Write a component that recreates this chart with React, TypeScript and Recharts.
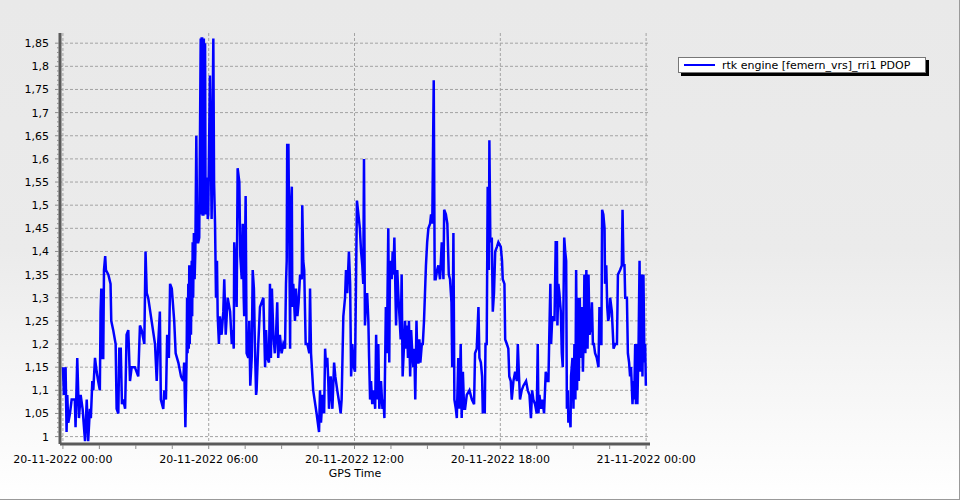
import { LineChart, Line, XAxis, YAxis, CartesianGrid, Legend } from "recharts";

const SERIES_NAME = "rtk engine [femern_vrs]_rri1 PDOP";
const FONT = "'DejaVu Sans', Verdana, sans-serif";

// [hours since 20-11-2022 00:00, PDOP]
const pdop00to06: [number, number][] = [
  [0, 1.15], [0.04, 1.09], [0.11, 1.15], [0.15, 1.01], [0.18, 1.09], [0.22, 1.03], [0.29, 1.05], [0.36, 1.08],
  [0.42, 1.08], [0.49, 1.08], [0.52, 1.02], [0.59, 1.17], [0.66, 1.04], [0.73, 1.09], [0.81, 1.06], [0.91, 0.99],
  [0.98, 1.08], [1.04, 0.99], [1.11, 1.06], [1.15, 1.04], [1.21, 1.12], [1.25, 1.1], [1.32, 1.17], [1.39, 1.14],
  [1.45, 1.12], [1.52, 1.1], [1.55, 1.27], [1.58, 1.32], [1.62, 1.17], [1.66, 1.17], [1.69, 1.36], [1.74, 1.39],
  [1.77, 1.36], [1.87, 1.35], [1.96, 1.33], [1.99, 1.25], [2.07, 1.23], [2.17, 1.2], [2.21, 1.06], [2.28, 1.05],
  [2.32, 1.19], [2.38, 1.19], [2.43, 1.07], [2.48, 1.08], [2.56, 1.06], [2.62, 1.22], [2.69, 1.23], [2.76, 1.12],
  [2.83, 1.15], [2.96, 1.15], [3.1, 1.13], [3.17, 1.24], [3.24, 1.23], [3.35, 1.2], [3.4, 1.4], [3.45, 1.31],
  [3.51, 1.3], [3.65, 1.25], [3.79, 1.2], [3.86, 1.12], [3.92, 1.2], [3.99, 1.27], [4.03, 1.08], [4.13, 1.06],
  [4.17, 1.1], [4.24, 1.08], [4.29, 1.22], [4.36, 1.17], [4.41, 1.33], [4.48, 1.32], [4.58, 1.25], [4.64, 1.18],
  [4.75, 1.16], [4.86, 1.13], [4.95, 1.12], [4.99, 1.16], [5.04, 1.02], [5.09, 1.17], [5.11, 1.3], [5.13, 1.18],
  [5.16, 1.33], [5.18, 1.19], [5.2, 1.37], [5.22, 1.2], [5.24, 1.35], [5.27, 1.22], [5.3, 1.38], [5.32, 1.26],
  [5.34, 1.42], [5.36, 1.3], [5.39, 1.44], [5.42, 1.34], [5.45, 1.4], [5.49, 1.65], [5.53, 1.42], [5.57, 1.42],
  [5.61, 1.43], [5.67, 1.86], [5.69, 1.48], [5.71, 1.86], [5.73, 1.86], [5.75, 1.48], [5.78, 1.48], [5.8, 1.86],
  [5.82, 1.5], [5.85, 1.85], [5.87, 1.48], [5.89, 1.55], [5.92, 1.48], [5.94, 1.56], [5.96, 1.47], [5.98, 1.48],
];

const pdop06to12: [number, number][] = [
  [6.05, 1.78], [6.09, 1.6], [6.12, 1.47], [6.19, 1.86], [6.22, 1.55], [6.26, 1.46], [6.3, 1.3], [6.34, 1.38],
  [6.37, 1.26], [6.42, 1.2], [6.46, 1.26], [6.53, 1.22], [6.6, 1.27], [6.64, 1.34], [6.7, 1.22], [6.78, 1.3],
  [6.88, 1.27], [6.95, 1.2], [6.99, 1.23], [7.03, 1.19], [7.05, 1.42], [7.11, 1.35], [7.15, 1.28], [7.19, 1.58],
  [7.26, 1.55], [7.3, 1.39], [7.36, 1.34], [7.4, 1.46], [7.44, 1.3], [7.46, 1.26], [7.52, 1.52], [7.56, 1.18],
  [7.63, 1.17], [7.67, 1.25], [7.71, 1.11], [7.77, 1.17], [7.81, 1.36], [7.86, 1.32], [7.9, 1.2], [7.95, 1.09],
  [7.97, 1.1], [8.04, 1.2], [8.11, 1.28], [8.18, 1.29], [8.25, 1.3], [8.32, 1.15], [8.36, 1.23], [8.41, 1.17],
  [8.48, 1.16], [8.52, 1.33], [8.56, 1.17], [8.6, 1.32], [8.66, 1.22], [8.72, 1.18], [8.77, 1.22], [8.82, 1.29],
  [8.86, 1.17], [8.93, 1.22], [9.0, 1.18], [9.07, 1.2], [9.14, 1.19], [9.18, 1.33], [9.21, 1.38], [9.23, 1.63],
  [9.28, 1.63], [9.32, 1.4], [9.35, 1.19], [9.37, 1.48], [9.42, 1.54], [9.44, 1.28], [9.48, 1.33], [9.55, 1.25],
  [9.59, 1.32], [9.65, 1.26], [9.7, 1.29], [9.76, 1.35], [9.83, 1.34], [9.85, 1.5], [9.89, 1.38], [9.93, 1.36],
  [9.99, 1.2], [10.06, 1.2], [10.14, 1.18], [10.17, 1.32], [10.21, 1.18], [10.3, 1.1], [10.44, 1.05], [10.54, 1.01],
  [10.58, 1.1], [10.62, 1.03], [10.69, 1.09], [10.75, 1.05], [10.79, 1.19], [10.83, 1.15], [10.88, 1.17], [10.92, 1.12],
  [10.95, 1.06], [11.02, 1.13], [11.09, 1.06], [11.16, 1.16], [11.21, 1.13], [11.29, 1.1], [11.38, 1.07], [11.43, 1.05],
  [11.47, 1.08], [11.54, 1.26], [11.61, 1.3], [11.65, 1.36], [11.7, 1.31], [11.77, 1.4], [11.82, 1.33], [11.86, 1.13],
  [11.91, 1.2], [11.97, 1.15],
];

const pdop12to18: [number, number][] = [
  [12.02, 1.14], [12.1, 1.51], [12.16, 1.48], [12.22, 1.45], [12.27, 1.4], [12.32, 1.37], [12.36, 1.33], [12.39, 1.6],
  [12.43, 1.24], [12.47, 1.29], [12.52, 1.31], [12.57, 1.25], [12.6, 1.17], [12.64, 1.08], [12.68, 1.12], [12.73, 1.07],
  [12.8, 1.1], [12.85, 1.06], [12.89, 1.22], [12.94, 1.08], [12.98, 1.2], [13.02, 1.06], [13.09, 1.12], [13.15, 1.06],
  [13.19, 1.08], [13.23, 1.04], [13.29, 1.28], [13.33, 1.18], [13.39, 1.45], [13.43, 1.16], [13.46, 1.38], [13.53, 1.34],
  [13.57, 1.4], [13.6, 1.35], [13.64, 1.43], [13.67, 1.35], [13.71, 1.24], [13.76, 1.36], [13.8, 1.31], [13.85, 1.26],
  [13.9, 1.21], [13.94, 1.35], [13.98, 1.13], [14.04, 1.2], [14.08, 1.25], [14.12, 1.19], [14.16, 1.24], [14.2, 1.17],
  [14.24, 1.25], [14.29, 1.13], [14.33, 1.23], [14.38, 1.18], [14.42, 1.15], [14.46, 1.19], [14.5, 1.08], [14.55, 1.25],
  [14.59, 1.16], [14.63, 1.16], [14.67, 1.21], [14.71, 1.16], [14.77, 1.2], [14.81, 1.2], [14.86, 1.25], [14.9, 1.31],
  [14.94, 1.37], [14.99, 1.42], [15.04, 1.45], [15.11, 1.46], [15.15, 1.48], [15.2, 1.46], [15.26, 1.77], [15.3, 1.34],
  [15.34, 1.34], [15.4, 1.36], [15.45, 1.37], [15.52, 1.34], [15.59, 1.42], [15.66, 1.34], [15.69, 1.49], [15.76, 1.48],
  [15.82, 1.46], [15.88, 1.35], [15.93, 1.34], [15.99, 1.29], [16.02, 1.15], [16.04, 1.24], [16.07, 1.44], [16.11, 1.08],
  [16.17, 1.06], [16.21, 1.04], [16.27, 1.17], [16.32, 1.06], [16.37, 1.2], [16.41, 1.04], [16.46, 1.14], [16.51, 1.06],
  [16.55, 1.06], [16.62, 1.09], [16.73, 1.1], [16.83, 1.08], [16.92, 1.07], [16.96, 1.18], [17.03, 1.19], [17.1, 1.28],
  [17.14, 1.17], [17.2, 1.16], [17.25, 1.13], [17.28, 1.05], [17.32, 1.1], [17.36, 1.05], [17.39, 1.2], [17.44, 1.2],
  [17.48, 1.54], [17.53, 1.36], [17.55, 1.64], [17.59, 1.42], [17.65, 1.43], [17.69, 1.27], [17.74, 1.31], [17.79, 1.4],
  [17.86, 1.41], [17.92, 1.42],
];

const pdop18to24: [number, number][] = [
  [18.02, 1.41], [18.07, 1.38], [18.1, 1.34], [18.17, 1.33], [18.2, 1.21], [18.27, 1.2], [18.33, 1.19], [18.37, 1.13],
  [18.43, 1.12], [18.47, 1.08], [18.54, 1.12], [18.61, 1.14], [18.68, 1.12], [18.72, 1.2], [18.77, 1.13], [18.81, 1.08],
  [18.88, 1.1], [18.95, 1.11], [19.06, 1.12], [19.13, 1.1], [19.2, 1.09], [19.26, 1.04], [19.31, 1.1], [19.36, 1.08],
  [19.43, 1.07], [19.5, 1.05], [19.54, 1.2], [19.57, 1.05], [19.61, 1.09], [19.68, 1.06], [19.73, 1.08], [19.8, 1.05],
  [19.87, 1.14], [19.93, 1.12], [19.98, 1.12], [20.02, 1.23], [20.06, 1.33], [20.09, 1.2], [20.14, 1.26], [20.23, 1.25],
  [20.28, 1.42], [20.33, 1.42], [20.35, 1.24], [20.39, 1.33], [20.43, 1.31], [20.49, 1.27], [20.53, 1.18], [20.57, 1.15],
  [20.63, 1.43], [20.67, 1.4], [20.71, 1.38], [20.74, 1.06], [20.78, 1.1], [20.8, 1.03], [20.84, 1.05], [20.89, 1.02],
  [20.91, 1.13], [20.97, 1.17], [21.01, 1.06], [21.05, 1.2], [21.09, 1.08], [21.12, 1.36], [21.16, 1.1], [21.19, 1.3],
  [21.23, 1.12], [21.27, 1.3], [21.31, 1.17], [21.35, 1.28], [21.4, 1.14], [21.44, 1.25], [21.46, 1.35], [21.5, 1.18],
  [21.54, 1.36], [21.59, 1.19], [21.63, 1.35], [21.67, 1.22], [21.73, 1.24], [21.77, 1.29], [21.81, 1.2], [21.85, 1.2],
  [21.9, 1.18], [21.97, 1.17], [22.04, 1.15], [22.08, 1.28], [22.12, 1.2], [22.16, 1.2], [22.19, 1.49], [22.24, 1.48],
  [22.29, 1.45], [22.31, 1.33], [22.36, 1.37], [22.4, 1.28], [22.44, 1.25], [22.48, 1.26], [22.52, 1.3], [22.59, 1.27],
  [22.66, 1.19], [22.73, 1.2], [22.8, 1.2], [22.84, 1.35], [22.93, 1.36], [23.0, 1.37], [23.03, 1.49], [23.07, 1.37],
  [23.11, 1.37], [23.14, 1.3], [23.21, 1.3], [23.25, 1.18], [23.3, 1.16], [23.34, 1.13], [23.38, 1.15], [23.44, 1.07],
  [23.48, 1.12], [23.51, 1.08], [23.55, 1.2], [23.58, 1.07], [23.62, 1.2], [23.64, 1.07], [23.69, 1.2], [23.73, 1.38],
  [23.77, 1.14], [23.81, 1.35], [23.85, 1.13], [23.89, 1.35], [23.93, 1.16], [23.96, 1.2], [23.99, 1.11],
];

const xMajorTicks = [0, 6, 12, 18, 24];
const xMinorTicks = [0, 1.5, 3, 4.5, 6, 7.5, 9, 10.5, 12, 13.5, 15, 16.5, 18, 19.5, 21, 22.5, 24];
const yMajorTicks = [1, 1.05, 1.1, 1.15, 1.2, 1.25, 1.3, 1.35, 1.4, 1.45, 1.5, 1.55, 1.6, 1.65, 1.7, 1.75, 1.8, 1.85];
// small marks every 0.01 on the value axis
const yMinorTicks = Array.from({ length: 86 }, (_, i) => Math.round(100 + i) / 100);

const data = [...pdop00to06, ...pdop06to12, ...pdop12to18, ...pdop18to24].map(([h, v]) => ({ h, pdop: v }));

function timeLabel(h: number) {
  const day = 20 + Math.floor(h / 24);
  const hh = String(h % 24).padStart(2, "0");
  return `${day}-11-2022 ${hh}:00`;
}

function XTick({ x, y, payload }: any) {
  const v = payload.value;
  const major = xMajorTicks.includes(v);
  return (
    <g>
      <line x1={x} x2={x} y1={y + 1} y2={y + 5} stroke="#8c8c8c" />
      {major && (
        <text x={x} y={y + 19} textAnchor="middle" fontSize={11} fontFamily={FONT} fill="#000">
          {timeLabel(v)}
        </text>
      )}
    </g>
  );
}

function YTick({ x, y, payload }: any) {
  const v = payload.value;
  const major = Math.round(v * 100) % 5 === 0;
  return (
    <g>
      <line x1={x - (major ? 5 : 3)} x2={x - 1} y1={y} y2={y} stroke="#8c8c8c" />
      {major && (
        <text x={x - 11} y={y + 4} textAnchor="end" fontSize={11} fontFamily={FONT} fill="#000">
          {String(Math.round(v * 100) / 100).replace(".", ",")}
        </text>
      )}
    </g>
  );
}

function LegendBox({ payload }: any) {
  return (
    <div>
      {(payload || []).map((entry: any) => (
        <div
          key={entry.value}
          style={{
            display: "flex",
            alignItems: "center",
            boxSizing: "border-box",
            width: 248,
            height: 16,
            padding: "0 5px",
            background: "#fff",
            border: "1px solid #777",
            boxShadow: "3px 3px 0 #000",
            fontFamily: FONT,
            fontSize: 11,
            color: "#000",
            whiteSpace: "nowrap",
          }}
        >
          <span style={{ display: "inline-block", width: 31, height: 2, background: entry.color, marginRight: 7 }} />
          <span>{entry.value}</span>
        </div>
      ))}
    </div>
  );
}

export default function App() {
  return (
    <div
      style={{
        position: "absolute",
        left: 0,
        top: 0,
        width: 960,
        height: 500,
        boxSizing: "border-box",
        borderRight: "1px solid #9a9a9a",
        borderBottom: "1px solid #9a9a9a",
        background: "linear-gradient(#e9e9e9 0%, #ebebeb 50%, #ffffff 100%)",
      }}
    >
      <LineChart width={960} height={500} data={data} margin={{ top: 33, right: 310, bottom: 0, left: 0 }}>
        <CartesianGrid
          stroke="#a3a3a3"
          strokeDasharray="3 2"
          horizontalValues={yMajorTicks}
          verticalValues={xMajorTicks}
        />
        <XAxis
          type="number"
          dataKey="h"
          domain={[-0.12, 24.16]}
          allowDataOverflow
          ticks={xMinorTicks}
          interval={0}
          tick={<XTick />}
          tickLine={false}
          tickSize={0}
          tickMargin={0}
          height={56}
          axisLine={{ stroke: "#5a5a5a", strokeWidth: 3 }}
          label={{ value: "GPS Time", position: "insideBottom", offset: 23, fontSize: 11, fontFamily: FONT, fill: "#000" }}
        />
        <YAxis
          type="number"
          domain={[0.984, 1.872]}
          allowDataOverflow
          ticks={yMinorTicks}
          interval={0}
          tick={<YTick />}
          tickLine={false}
          tickSize={0}
          tickMargin={0}
          width={60}
          axisLine={{ stroke: "#5a5a5a", strokeWidth: 3 }}
        />
        <Legend
          layout="vertical"
          align="center"
          verticalAlign="middle"
          wrapperStyle={{ left: 678, top: 57, width: 252, height: 20 }}
          content={<LegendBox />}
        />
        <Line
          type="linear"
          dataKey="pdop"
          name={SERIES_NAME}
          stroke="#0000ff"
          strokeWidth={2.5}
          dot={false}
          isAnimationActive={false}
        />
      </LineChart>
    </div>
  );
}
